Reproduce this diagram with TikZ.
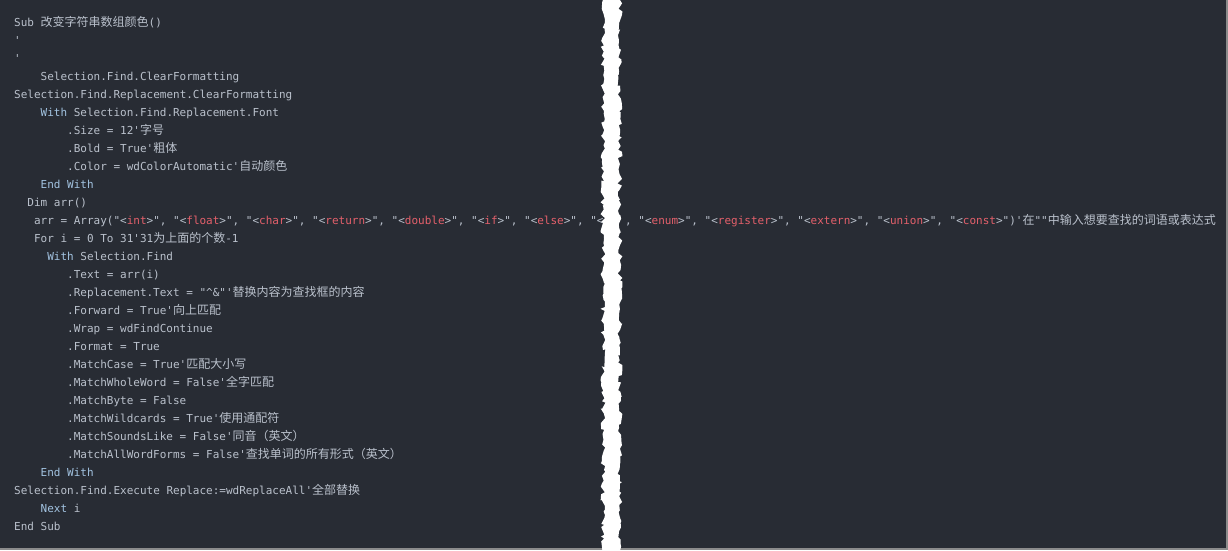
\documentclass[tikz,border=0pt]{standalone}
\usepackage{fontspec}
\setmonofont{DejaVu Sans Mono}
\newfontfamily\cjkf{Noto Sans CJK SC}
\usetikzlibrary{decorations.pathmorphing}
\definecolor{bg}{HTML}{282C34}
\definecolor{txt}{HTML}{BAC1CC}
\definecolor{kwc}{HTML}{A3C4E2}
\definecolor{tagc}{HTML}{E4606B}
\definecolor{edge}{HTML}{8C8C8C}
\newcommand\zh[1]{{\cjkf\fontsize{12}{18}\selectfont #1}}
\newcommand\kw[1]{\textcolor{kwc}{#1}}
\newcommand\tg[1]{\textcolor{tagc}{#1}}
\begin{document}
\begin{tikzpicture}[x=1pt,y=-1pt,
  codeline/.style={anchor=base west,inner sep=0pt,text=txt,
    font=\ttfamily\fontsize{11}{18}\selectfont}]
\useasboundingbox (0,0) rectangle (1228,550);
\fill[bg] (0,0) rectangle (1228,550);
\fill[edge] (0,547.5) rectangle (1228,550);
\fill[edge] (1226,0) rectangle (1228,550);
\def\cw{6.62}
\def\ly#1{26+18*#1}
\node[codeline] (l0) at (14,{\ly{0}}) {Sub \zh{改变字符串数组颜色}()};
\node[codeline] (l1) at (14,{\ly{1}}) {'};
\node[codeline] (l2) at (14,{\ly{2}}) {'};
\node[codeline] (l3) at ({14+4*\cw},{\ly{3}}) {Selection.Find.ClearFormatting};
\node[codeline] (l4) at (14,{\ly{4}}) {Selection.Find.Replacement.ClearFormatting};
\node[codeline] (l5) at ({14+4*\cw},{\ly{5}}) {\kw{With} Selection.Find.Replacement.Font};
\node[codeline] (l6) at ({14+8*\cw},{\ly{6}}) {.Size = 12'\zh{字号}};
\node[codeline] (l7) at ({14+8*\cw},{\ly{7}}) {.Bold = True'\zh{粗体}};
\node[codeline] (l8) at ({14+8*\cw},{\ly{8}}) {.Color = wdColorAutomatic'\zh{自动颜色}};
\node[codeline] (l9) at ({14+4*\cw},{\ly{9}}) {\kw{End With}};
\node[codeline] (l10) at ({14+2*\cw},{\ly{10}}) {Dim arr()};
\node[codeline] (l11a) at ({14+3*\cw},{\ly{11}}) {arr = Array("<\tg{int}>", "<\tg{float}>", "<\tg{char}>", "<\tg{return}>", "<\tg{double}>", "<\tg{if}>", "<\tg{else}>", "<\tg{s}};
\node[codeline] (l11b) at (625,{\ly{11}}) {, "<\tg{enum}>", "<\tg{register}>", "<\tg{extern}>", "<\tg{union}>", "<\tg{const}>")'\zh{在}""\zh{中输入想要查找的词语或表达式}};
\node[codeline] (l12) at ({14+3*\cw},{\ly{12}}) {For i = 0 To 31'31\zh{为上面的个数}-1};
\node[codeline] (l13) at ({14+5*\cw},{\ly{13}}) {\kw{With} Selection.Find};
\node[codeline] (l14) at ({14+8*\cw},{\ly{14}}) {.Text = arr(i)};
\node[codeline] (l15) at ({14+8*\cw},{\ly{15}}) {.Replacement.Text = "\textasciicircum\&"'\zh{替换内容为查找框的内容}};
\node[codeline] (l16) at ({14+8*\cw},{\ly{16}}) {.Forward = True'\zh{向上匹配}};
\node[codeline] (l17) at ({14+8*\cw},{\ly{17}}) {.Wrap = wdFindContinue};
\node[codeline] (l18) at ({14+8*\cw},{\ly{18}}) {.Format = True};
\node[codeline] (l19) at ({14+8*\cw},{\ly{19}}) {.MatchCase = True'\zh{匹配大小写}};
\node[codeline] (l20) at ({14+8*\cw},{\ly{20}}) {.MatchWholeWord = False'\zh{全字匹配}};
\node[codeline] (l21) at ({14+8*\cw},{\ly{21}}) {.MatchByte = False};
\node[codeline] (l22) at ({14+8*\cw},{\ly{22}}) {.MatchWildcards = True'\zh{使用通配符}};
\node[codeline] (l23) at ({14+8*\cw},{\ly{23}}) {.MatchSoundsLike = False'\zh{同音（英文）}};
\node[codeline] (l24) at ({14+8*\cw},{\ly{24}}) {.MatchAllWordForms = False'\zh{查找单词的所有形式（英文）}};
\node[codeline] (l25) at ({14+4*\cw},{\ly{25}}) {\kw{End With}};
\node[codeline] (l26) at (14,{\ly{26}}) {Selection.Find.Execute Replace:=wdReplaceAll'\zh{全部替换}};
\node[codeline] (l27) at ({14+4*\cw},{\ly{27}}) {\kw{Next} i};
\node[codeline] (l28) at (14,{\ly{28}}) {End Sub};
% torn strip
\pgfmathsetseed{11}
\fill[white, decorate, decoration={random steps, segment length=3.5pt, amplitude=2.5pt}]
  (603,-6) -- (603,556) -- (620,556) -- (620,-6) -- cycle;
\end{tikzpicture}
\end{document}
